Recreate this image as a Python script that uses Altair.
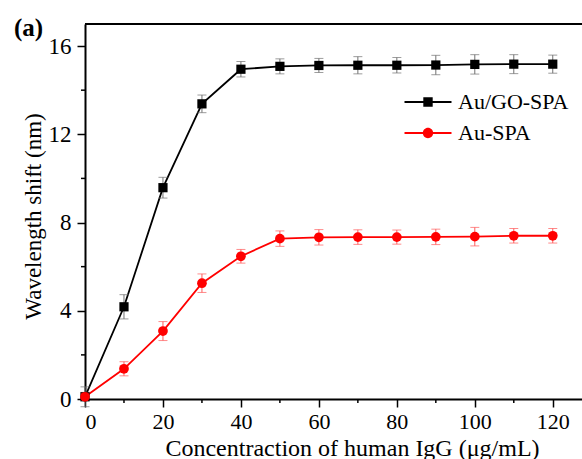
import altair as alt
import pandas as pd

conc = [0, 10, 20, 30, 40, 50, 60, 70, 80, 90, 100, 110, 120]
go_vals = [0.1, 4.18, 9.58, 13.38, 14.95, 15.08, 15.12, 15.13, 15.13, 15.14, 15.17, 15.18, 15.18]
go_err = [0.45, 0.55, 0.47, 0.4, 0.35, 0.34, 0.32, 0.39, 0.35, 0.44, 0.44, 0.43, 0.41]
au_vals = [0.1, 1.37, 3.08, 5.25, 6.47, 7.27, 7.33, 7.34, 7.34, 7.35, 7.36, 7.4, 7.4]
au_err = [0.2, 0.32, 0.43, 0.42, 0.31, 0.35, 0.35, 0.33, 0.32, 0.35, 0.42, 0.33, 0.33]
series_names = ["Au/GO-SPA", "Au-SPA"]
series_colors = ["#000000", "#ff0000"]
err_colors = ["#707070", "#ff5a5a"]
x_minor = [10, 30, 50, 70, 90, 110]
y_minor = [2, 6, 10, 14]
x_title = "Concentraction of human IgG (\u03bcg/mL)"
y_title = "Wavelength shift (nm)"

rows = []
for c, v, e in zip(conc, go_vals, go_err):
    rows.append({"x": c, "y": v, "lo": v - e, "hi": v + e, "series": series_names[0]})
for c, v, e in zip(conc, au_vals, au_err):
    rows.append({"x": c, "y": v, "lo": max(v - e, 0), "hi": v + e, "series": series_names[1]})
df = pd.DataFrame(rows)

W, H = 497, 375
FONT = "Liberation Serif"

xs = alt.Scale(domain=[0, 127.5], nice=False, zero=False)
ys = alt.Scale(domain=[0, 17], nice=False)
cs = alt.Scale(domain=series_names, range=series_colors)
es = alt.Scale(domain=series_names, range=err_colors)

xax = alt.Axis(values=list(range(0, 121, 20)), title=x_title, tickSize=8, tickWidth=1.5,
               domainWidth=2, domainColor="black", tickColor="black", labelFontSize=22,
               labelFont=FONT, labelColor="black", titleFont=FONT, titleFontSize=24,
               titleFontWeight="normal", titleColor="black", labelPadding=4,
               titleBaseline="alphabetic", titleY=56,
               grid=False, titleX=267)
yax = alt.Axis(values=[0, 4, 8, 12, 16], title=y_title, tickSize=8, tickWidth=1.5,
               domainWidth=2, domainColor="black", tickColor="black", labelFontSize=23,
               labelFont=FONT, labelColor="black", titleFont=FONT, titleFontSize=23,
               titleFontWeight="normal", titleColor="black", labelPadding=6, titlePadding=3,
               grid=False, titleY=192)

base = alt.Chart(df)

lines = base.mark_line(strokeWidth=1.8).encode(
    x=alt.X("x:Q", scale=xs, axis=xax),
    y=alt.Y("y:Q", scale=ys, axis=yax),
    color=alt.Color("series:N", scale=cs, legend=None),
    detail="series:N",
)

err_rule = base.mark_rule(strokeWidth=1).encode(
    x="x:Q", y="lo:Q", y2="hi:Q",
    color=alt.Color("series:N", scale=es, legend=None),
)
cap_lo = base.mark_tick(orient="horizontal", size=9, thickness=1).encode(
    x="x:Q", y="lo:Q", color=alt.Color("series:N", scale=es, legend=None))
cap_hi = base.mark_tick(orient="horizontal", size=9, thickness=1).encode(
    x="x:Q", y="hi:Q", color=alt.Color("series:N", scale=es, legend=None))

squares = base.transform_filter(alt.datum.series == series_names[0]).mark_square(
    size=85, opacity=1, color=series_colors[0]).encode(x="x:Q", y="y:Q")
circles = base.transform_filter(alt.datum.series == series_names[1]).mark_circle(
    size=95, opacity=1, color=series_colors[1]).encode(x="x:Q", y="y:Q")

# legend symbols: line + marker (path units scaled by sqrt(size)/2 = 11.75 px)
sq_path = "M-2,-0.09H2V0.09H-2Z M-0.4,-0.4H0.4V0.4H-0.4Z"
ci_path = ("M-2,-0.09H2V0.09H-2Z M-0.44,0A0.44,0.44 0 1 1 0.44,0"
           "A0.44,0.44 0 1 1 -0.44,0Z")
leg = alt.Legend(title=None, orient="none", legendX=331, legendY=66,
                 symbolSize=552, symbolOpacity=1, labelFont=FONT,
                 labelFontSize=22, labelColor="black", rowPadding=8,
                 labelOffset=18, symbolStrokeWidth=0)
legend_layer = base.mark_point(filled=True, opacity=0).encode(
    x="x:Q", y="y:Q",
    fill=alt.Fill("series:N", scale=alt.Scale(domain=series_names, range=series_colors),
                  legend=leg),
    shape=alt.Shape("series:N", scale=alt.Scale(domain=series_names, range=[sq_path, ci_path]),
                    legend=leg),
)

x_minor_df = pd.DataFrame({"m": x_minor})
y_minor_df = pd.DataFrame({"m": y_minor})
xmin_ticks = alt.Chart(x_minor_df).mark_rule(color="black", strokeWidth=1.5).encode(
    x=alt.X("m:Q", scale=xs), y=alt.value(H), y2=alt.value(H + 4))
ymin_ticks = alt.Chart(y_minor_df).mark_rule(color="black", strokeWidth=1.5).encode(
    y=alt.Y("m:Q", scale=ys), x=alt.value(0), x2=alt.value(-4))

top_border = alt.Chart(pd.DataFrame({"a": [0]})).mark_rule(color="black", strokeWidth=2).encode(
    x=alt.value(0), x2=alt.value(W), y=alt.value(0))

panel_label = alt.Chart(pd.DataFrame({"t": ["(a)"]})).mark_text(
    font=FONT, fontSize=25, fontWeight="bold", align="left", baseline="middle", color="black"
).encode(text="t:N", x=alt.value(-71), y=alt.value(4))

chart = alt.layer(
    lines, err_rule, cap_lo, cap_hi, squares, circles, legend_layer,
    xmin_ticks, ymin_ticks, top_border, panel_label
).resolve_scale(color="independent").properties(
    width=W, height=H,
    padding={"left": 85, "top": 24, "right": 0, "bottom": 60},
    autosize=alt.AutoSizeParams(type="none"),
).configure_view(stroke=None).configure(background="white")

chart.save("out.html", embed_options={"renderer": "svg", "actions": False})
